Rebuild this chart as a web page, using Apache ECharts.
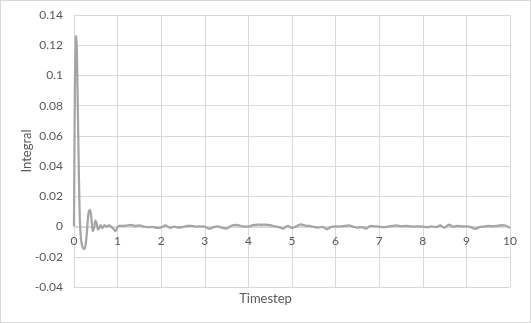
<!DOCTYPE html>
<html>
<head>
<meta charset="utf-8">
<script src="https://cdn.jsdelivr.net/npm/echarts@6/dist/echarts.min.js"></script>
<style>
html,body{margin:0;padding:0;background:#fff;}
#c{position:absolute;left:0;top:0;width:529px;height:321px;border:1px solid #D9D9D9;}
</style>
</head>
<body>
<div id="c"></div>
<script>
const timesteps = [0,0.02,0.04,0.055,0.07,0.1,0.13,0.16,0.2,0.24,0.28,0.31,0.34,0.37,0.4,0.43,0.46,0.49,0.52,0.55,0.58,0.61,0.65,0.7,0.75,0.8,0.85,0.9,0.95,1.0,1.05,
1.1,1.2,1.3,1.4,1.5,1.6,1.7,1.8,1.9,2.0,2.1,2.2,2.3,2.4,2.5,2.6,2.7,2.8,2.9,3.0,3.1,3.2,3.3,3.4,3.5,3.6,3.7,3.8,3.9,4.0,
4.1,4.2,4.3,4.4,4.5,4.6,4.7,4.8,4.9,5.0,5.1,5.2,5.3,5.4,5.5,5.6,5.7,5.8,5.9,6.0,6.1,6.2,6.3,6.4,6.5,6.6,6.7,6.8,6.9,7.0,
7.1,7.2,7.3,7.4,7.5,7.6,7.7,7.8,7.9,8.0,8.1,8.2,8.3,8.4,8.5,8.6,8.7,8.8,8.9,9.0,9.1,9.2,9.3,9.4,9.5,9.6,9.7,9.8,9.9,10.0];
const integral = [0,0.09,0.125,0.126,0.11,0.055,0.008,-0.008,-0.014,-0.015,-0.009,0.002,0.010,0.011,0.005,-0.003,-0.001,0.004,0.002,-0.002,-0.001,0.001,-0.001,0.001,0.0,0.0008,0.0,-0.0015,-0.003,-0.0005,0.0006,
0.0004,0.0007,0.0011,0.0004,0.0007,0,-0.0004,-0.0002,-0.0009,-0.0005,0.0007,-0.0009,0,-0.0007,-0.0002,0.0004,0.0004,0,0.0002,0,-0.0015,-0.0004,0.0002,-0.0009,-0.0013,0.0004,0.0011,0.0007,0,0,
0.0009,0.0013,0.0011,0.0013,0.0009,0.0002,-0.0004,-0.0013,0.0004,-0.0009,0.0002,0.0015,0.0007,0.0004,-0.0002,-0.0007,-0.0002,-0.0018,-0.0002,0.0002,0,0.0004,0.0007,0,-0.0007,-0.0004,-0.0013,0.0004,0.0002,0,
-0.0004,0,0.0004,0.0007,0.0002,0.0004,0.0002,0,0.0002,0,-0.0004,0.0002,-0.0004,0.0007,-0.0007,0.0013,-0.0002,0.0004,0.0002,0.0002,-0.0004,-0.0015,-0.0004,0,0.0004,0.0002,0.0004,0.0009,0.0007,-0.0011];
const xTitle = 'Timestep';
const yTitle = 'Integral';

const chart = echarts.init(document.getElementById('c'), null, {renderer:'canvas'});
const txt = {color:'#595959', fontFamily:'Lato, "Open Sans", sans-serif', fontSize:12};
chart.setOption({
  animation:false,
  grid:{left:73,right:20,top:14,bottom:35},
  xAxis:{type:'value',min:0,max:10,interval:1,offset:-60,
    axisLine:{show:true,onZero:false,lineStyle:{color:'#D9D9D9'}},
    axisTick:{show:false},
    axisLabel:Object.assign({margin:8},txt),
    splitLine:{show:true,lineStyle:{color:'#D9D9D9',width:1}}},
  yAxis:{type:'value',min:-0.04,max:0.14,interval:0.02,
    name:yTitle,nameLocation:'middle',nameRotate:90,nameGap:41,nameMoveOverlap:false,
    nameTextStyle:Object.assign({},txt,{fontSize:13}),
    axisLine:{show:true,onZero:false,lineStyle:{color:'#D9D9D9'}},
    axisTick:{show:false},
    axisLabel:Object.assign({margin:11,formatter:v=>String(parseFloat(v.toFixed(2)))},txt),
    splitLine:{show:true,lineStyle:{color:'#D9D9D9',width:1}}},
  graphic:[{type:'text',left:'center',top:291,style:Object.assign({text:xTitle,fill:'#595959',font:'13px Lato, "Open Sans", sans-serif'})}],
  series:[{type:'line',data:timesteps.map((t,i)=>[t,integral[i]]),showSymbol:false,smooth:0.3,
    lineStyle:{color:'#A5A5A5',width:2.25},itemStyle:{color:'#A5A5A5'}}]
});
</script>
</body>
</html>
